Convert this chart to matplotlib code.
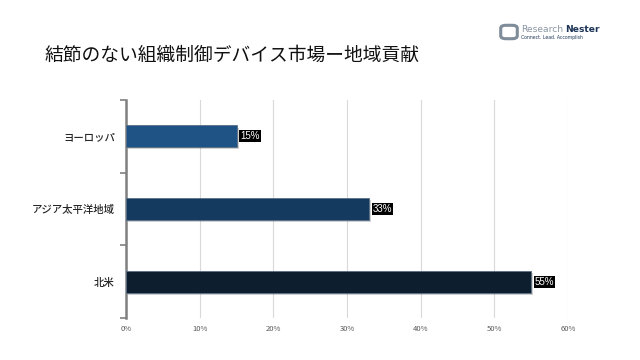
import matplotlib
matplotlib.use("Agg")
import matplotlib.pyplot as plt
import matplotlib.patheffects as pe
from matplotlib.patches import FancyBboxPatch
from matplotlib.transforms import offset_copy

plt.rcParams['font.family'] = ['Noto Sans CJK JP', 'DejaVu Sans']

categories = ["北米", "アジア太平洋地域", "ヨーロッパ"]
values = [55, 33, 15]
colors = ["#0D1E2E", "#153A5F", "#1F5385"]
xticks = [0, 10, 20, 30, 40, 50, 60]
xticklabels = ["0%", "10%", "20%", "30%", "40%", "50%", "60%"]
title = "結節のない組織制御デバイス市場ー地域貢献"

fig = plt.figure(figsize=(6.4, 3.6), dpi=100)
ax = fig.add_axes([126/640, 1-318/360, (568-126)/640, (318-100)/360])

ypos = list(range(len(categories)))
bars = ax.barh(ypos, values, height=0.3, color=colors, zorder=3,
               edgecolor="#5a6f85", linewidth=0.6)
for b in bars:
    b.set_path_effects([pe.SimplePatchShadow(offset=(1.5, -1.5), shadow_rgbFace="#000000", alpha=0.18), pe.Normal()])

for y, v in zip(ypos, values):
    ax.text(v + 0.5, y, f"{v}%", va="center", ha="left", fontsize=7, color="white",
            family=['Liberation Sans', 'DejaVu Sans'],
            bbox=dict(boxstyle="square,pad=0.1", fc="black", ec="none"), zorder=5)

ax.set_xlim(0, 60)
ax.set_ylim(-0.5, 2.5)
ax.set_xticks(xticks)
ax.set_xticklabels(xticklabels, fontsize=5.5, color="#595959")
ax.set_yticks(ypos)
ax.set_yticklabels(categories, fontsize=7.5, color="#262626", fontweight='medium')
ax.tick_params(axis='y', length=0, pad=8)
ax.tick_params(axis='x', length=0, pad=5)
ax.set_yticks([-0.5, 0.5, 1.5, 2.5], minor=True)
ax.tick_params(axis='y', which='minor', length=4, width=1.2, color="#808080", direction='out')

ax.grid(axis='x', color="#d9d9d9", linewidth=0.8, zorder=0)
for s in ["top", "right", "bottom"]:
    ax.spines[s].set_visible(False)
ax.spines["left"].set_color("#808080")
ax.spines["left"].set_linewidth(1.8)

fig.text(45/640, 1-55/360, title, fontsize=13.5, color="#111111", va="center", ha="left")

# logo
logo = FancyBboxPatch((502/640, 1-38/360), 14/640, 12/360, boxstyle="round,pad=0.002,rounding_size=0.008",
                      transform=fig.transFigure, fc="none", ec="#7f8c99", lw=2.2)
fig.patches.append(logo)
t1 = fig.text(521/640, 1-29/360, "Research", fontsize=6.6, color="#8a96a3", va="center", ha="left",
              family=['DejaVu Sans Condensed', 'DejaVu Sans'])
fig.canvas.draw()
w = t1.get_window_extent().width
tr = offset_copy(fig.transFigure, fig=fig, x=(w + 2) * 72 / fig.dpi, y=0, units='points')
fig.text(521/640, 1-29/360, "Nester", fontsize=6.6, color="#1d3557", va="center", ha="left",
         family=['DejaVu Sans Condensed', 'DejaVu Sans'], fontweight='bold', transform=tr)
fig.text(521/640, 1-37/360, "Connect. Lead. Accomplish", fontsize=3.3, color="#1d3557", va="center", ha="left",
         family=['DejaVu Sans'])

fig.savefig("out.png", dpi=100, facecolor="white")
